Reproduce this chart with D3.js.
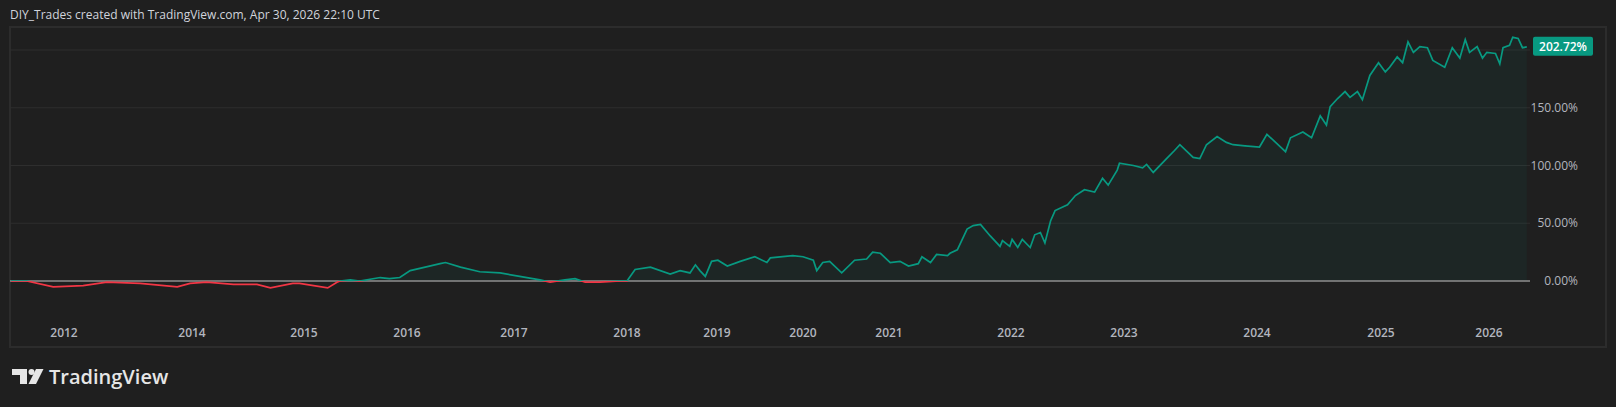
<!DOCTYPE html>
<html><head><meta charset="utf-8">
<script src="https://cdn.jsdelivr.net/npm/d3@7"></script>
<style>body{margin:0;background:#1f1f1f;}svg{display:block;font-family:"Open Sans",Roboto,sans-serif;}</style>
</head><body><svg id="c" width="1616" height="407"></svg>
<script>
const tickYears=[2012,2014,2015,2016,2017,2018,2019,2020,2021,2022,2023,2024,2025,2026];
const yTicks=[0,50,100,150,200];
const times=[2011.02,2011.31,2011.80,2012.30,2012.67,2013.19,2013.77,2013.97,2014.13,2014.37,2014.58,2014.70,2014.90,2014.96,2015.23,2015.32,2015.35,2015.45,2015.54,2015.74,2015.83,2015.93,2016.03,2016.17,2016.31,2016.36,2016.50,2016.68,2016.87,2017.05,2017.23,2017.32,2017.45,2017.54,2017.63,2017.76,2017.94,2018.0,2018.09,2018.26,2018.48,2018.59,2018.70,2018.76,2018.81,2018.87,2018.94,2019.01,2019.12,2019.27,2019.44,2019.58,2019.62,2019.88,2020.0,2020.12,2020.16,2020.23,2020.31,2020.45,2020.60,2020.74,2020.81,2020.90,2021.01,2021.09,2021.16,2021.24,2021.27,2021.34,2021.39,2021.48,2021.50,2021.56,2021.64,2021.69,2021.75,2021.83,2021.91,2021.93,2021.99,2022.01,2022.06,2022.10,2022.17,2022.21,2022.26,2022.30,2022.35,2022.39,2022.50,2022.57,2022.65,2022.74,2022.81,2022.86,2022.94,2022.96,2023.07,2023.14,2023.17,2023.22,2023.32,2023.38,2023.42,2023.52,2023.57,2023.62,2023.70,2023.77,2023.82,2023.91,2024.02,2024.08,2024.23,2024.27,2024.37,2024.44,2024.51,2024.56,2024.59,2024.65,2024.71,2024.75,2024.81,2024.85,2024.91,2024.98,2025.04,2025.08,2025.15,2025.20,2025.25,2025.30,2025.36,2025.43,2025.48,2025.59,2025.66,2025.73,2025.78,2025.82,2025.89,2025.94,2025.98,2026.06,2026.10,2026.13,2026.19,2026.22,2026.27,2026.31,2026.35];
const values=[0,0,-5,-4,-1,-2,-5,-2,-1,-3,-3,-6,-2,-2,-6,-1,0,1,0,3,2,3,9,12,15,16,12,8,7,4,1,-1,1,2,-1,-1,0,0,10,12,6,9,7,14,9,4,17,18,13,17,21,16,20,22,21,18,9,16,17,7,18,19,25,24,16,17,13,15,21,16,23,22,24,27,45,48,49,39,30,35,30,36,29,36,29,40,42,33,52,61,66,74,79,77,89,83,96,102,100,98,101,94,106,113,118,107,106,118,125,120,118,117,116,127,112,124,129,124,143,135,151,158,164,159,164,157,178,189,181,185,194,189,207,198,203,202,191,185,202,193,209,198,203,193,198,197,188,202,204,211,210,202,202.72];
const data=times.map((t,i)=>({t,v:values[i]}));

const svg=d3.select("#c");
const L=10,R=1606,T=27,B=347;
const x=d3.scaleLinear()
 .domain([2011,2012,2014,2015,2016,2017,2018,2019,2020,2021,2022,2023,2024,2025,2026,2027])
 .range([10,64,192,304,407,514,627,717,803,889,1011,1124,1257,1381,1489,1597]);
const y=d3.scaleLinear().domain([0,200]).range([281,50]);

svg.append("rect").attr("x",L).attr("y",T).attr("width",R-L).attr("height",B-T).attr("fill","#1f1f1f").attr("stroke","#2c2c2c").attr("stroke-width",2);
svg.selectAll(".g").data(yTicks.slice(1)).join("line").attr("x1",L).attr("x2",1530).attr("y1",d=>y(d)).attr("y2",d=>y(d)).attr("stroke","#2e2e2e");

const defs=svg.append("defs");
defs.append("clipPath").attr("id","above").append("rect").attr("x",0).attr("y",0).attr("width",1616).attr("height",y(0));
defs.append("clipPath").attr("id","below").append("rect").attr("x",0).attr("y",y(0)).attr("width",1616).attr("height",200);

svg.append("path").datum(data).attr("clip-path","url(#above)")
 .attr("d",d3.area().x(d=>x(d.t)).y0(y(0)).y1(d=>y(d.v))).attr("fill","rgba(8,153,129,0.06)");
svg.append("line").attr("x1",L).attr("x2",1530).attr("y1",y(0)).attr("y2",y(0)).attr("stroke","#8f8f8f").attr("stroke-width",1.5);
const line=d3.line().x(d=>x(d.t)).y(d=>y(d.v));
svg.append("path").datum(data).attr("clip-path","url(#above)").attr("d",line).attr("fill","none").attr("stroke","#089981").attr("stroke-width",1.7);
svg.append("path").datum(data).attr("clip-path","url(#below)").attr("d",line).attr("fill","none").attr("stroke","#f23645").attr("stroke-width",1.7);

svg.selectAll(".yl").data(yTicks.slice(0,4)).join("text").attr("x",1578).attr("y",d=>y(d)+4).attr("text-anchor","end")
 .attr("fill","#b2b5be").attr("font-size",12).text(d=>d.toFixed(2)+"%");
svg.selectAll(".xl").data(tickYears).join("text").attr("x",d=>x(d)).attr("y",337).attr("text-anchor","middle")
 .attr("fill","#b2b5be").attr("font-size",12).attr("font-weight",600).text(d=>d);

const last=data[data.length-1];
svg.append("rect").attr("x",1533).attr("y",y(last.v)-10).attr("width",60).attr("height",19).attr("rx",2).attr("fill","#089981");
svg.append("text").attr("x",1563).attr("y",y(last.v)+4).attr("text-anchor","middle").attr("fill","#fff").attr("font-size",12).attr("font-weight",600).text(last.v.toFixed(2)+"%");

svg.append("text").attr("x",10).attr("y",19).attr("fill","#d1d4dc").attr("font-size",12).text("DIY_Trades created with TradingView.com, Apr 30, 2026 22:10 UTC");

const lg=svg.append("g").attr("fill","#e6e6e6");
lg.append("path").attr("d","M12 369h15v15h-7v-9h-8z");
lg.append("circle").attr("cx",31.5).attr("cy",372).attr("r",3);
lg.append("path").attr("d","M36 369h7.5l-7.5 15h-7.5z");
lg.append("text").attr("x",49).attr("y",384).attr("font-size",20).attr("font-weight",600).text("TradingView");
</script></body></html>
